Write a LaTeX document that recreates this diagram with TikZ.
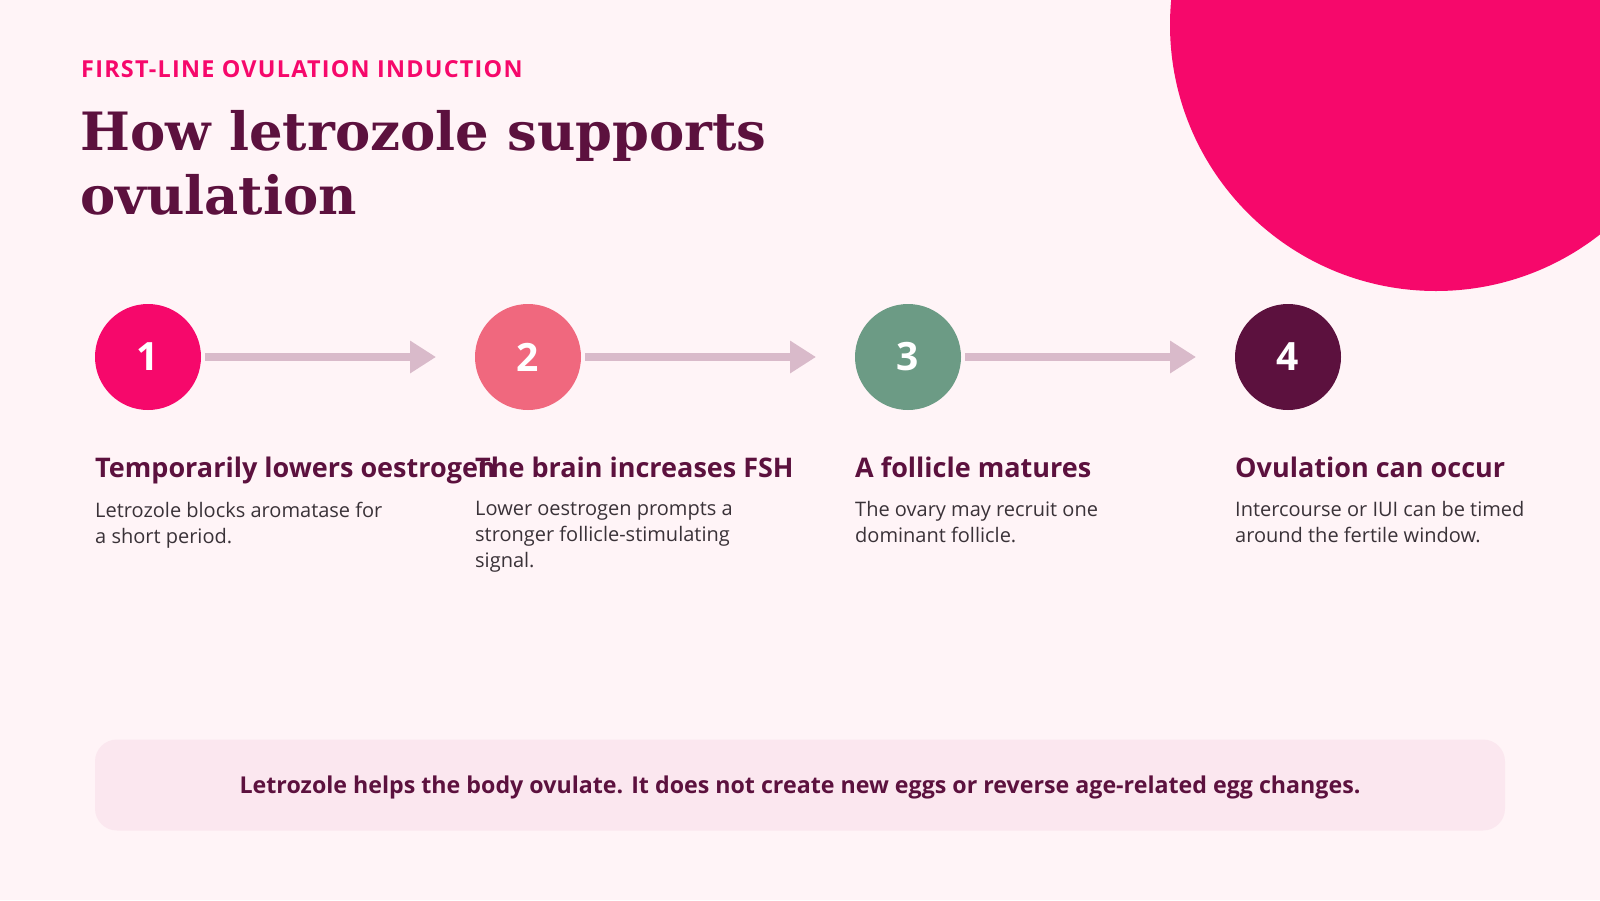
\documentclass[tikz,border=0pt]{standalone}
\usepackage{fontspec}
\setmainfont{Open Sans}
\newfontfamily\headfont{DejaVu Serif}
\usepackage{tikz}
\usetikzlibrary{positioning, arrows.meta}
\usepackage{xcolor}
\definecolor{pageBg}{RGB}{255, 244, 247}
\definecolor{hotPink}{RGB}{246, 8, 107}
\definecolor{coral}{RGB}{240, 104, 126}
\definecolor{sage}{RGB}{108, 155, 133}
\definecolor{plum}{RGB}{92, 17, 62}
\definecolor{flowLine}{RGB}{217, 186, 202}
\definecolor{noteFill}{RGB}{251, 231, 239}
\definecolor{bodyText}{RGB}{58, 50, 56}

\tikzset{
  stepdot/.style={circle, minimum size=106pt, inner sep=0pt, outer sep=0pt,
    text=white, font=\fontsize{39}{40}\selectfont\bfseries},
  flow/.style={-{Triangle[length=26pt, width=31pt]}, line width=8pt, flowLine,
    shorten <=4pt, shorten >=39pt},
  steptitle/.style={anchor=base west, inner sep=0pt, text=plum,
    font=\fontsize{27}{31}\selectfont\bfseries},
  stepnote/.style={anchor=north west, inner sep=0pt, align=left, text=bodyText,
    font=\fontsize{20}{26}\selectfont},
}

\begin{document}
\begin{tikzpicture}[x=1pt, y=-1pt]
  % page, 1600 x 900
  \fill[pageBg] (0,0) rectangle (1600,900);
  \useasboundingbox (0,0) rectangle (1600,900);
  \begin{scope}
    \clip (0,0) rectangle (1600,900);
    \fill[hotPink] (1436,25) circle (266);
  \end{scope}

  % heading
  \node[anchor=base west, inner sep=0pt, text=hotPink,
    font=\fontsize{23.4}{27}\selectfont\bfseries\addfontfeature{LetterSpace=5.3}]
    (kicker) at (81,77) {FIRST-LINE OVULATION INDUCTION};
  \node[anchor=base west, inner sep=0pt, text=plum, font=\headfont\fontsize{52.8}{62}\selectfont\bfseries]
    (title1) at (80,150) {How letrozole supports};
  \node[anchor=base west, inner sep=0pt, text=plum, font=\headfont\fontsize{52.8}{62}\selectfont\bfseries]
    (title2) at (80,214) {ovulation};

  % the four steps
  \node[stepdot, fill=hotPink] (s1) at (148,357) {1};
  \node[stepdot, fill=coral]   (s2) at (528,357) {2};
  \node[stepdot, fill=sage]    (s3) at (908,357) {3};
  \node[stepdot, fill=plum]    (s4) at (1288,357) {4};

  \draw[flow] (s1) -- (s2);
  \draw[flow] (s2) -- (s3);
  \draw[flow] (s3) -- (s4);

  \node[steptitle] (t1) at (s1.west |- 0,477) {Temporarily lowers oestrogen};
  \node[steptitle] (t2) at (s2.west |- 0,477) {The brain increases FSH};
  \node[steptitle] (t3) at (s3.west |- 0,477) {A follicle matures};
  \node[steptitle] (t4) at (s4.west |- 0,477) {Ovulation can occur};

  \node[stepnote] (n1) at (s1.west |- 0,501.5) {Letrozole blocks aromatase for\\a short period.};
  \node[stepnote] (n2) at (s2.west |- 0,501.5) {Lower oestrogen prompts a\\stronger follicle-stimulating\\signal.};
  \node[stepnote] (n3) at (s3.west |- 0,501.5) {The ovary may recruit one\\dominant follicle.};
  \node[stepnote] (n4) at (s4.west |- 0,501.5) {Intercourse or IUI can be timed\\around the fertile window.};

  % closing note
  \node[fill=noteFill, rounded corners=22pt, minimum width=1410pt, minimum height=91pt,
    inner sep=0pt, text depth=0pt, text=plum, font=\fontsize{23.2}{26}\selectfont\bfseries]
    (note) at (800,785)
    {Letrozole helps the body ovulate. It does not create new eggs or reverse age-related egg changes.};
\end{tikzpicture}
\end{document}
